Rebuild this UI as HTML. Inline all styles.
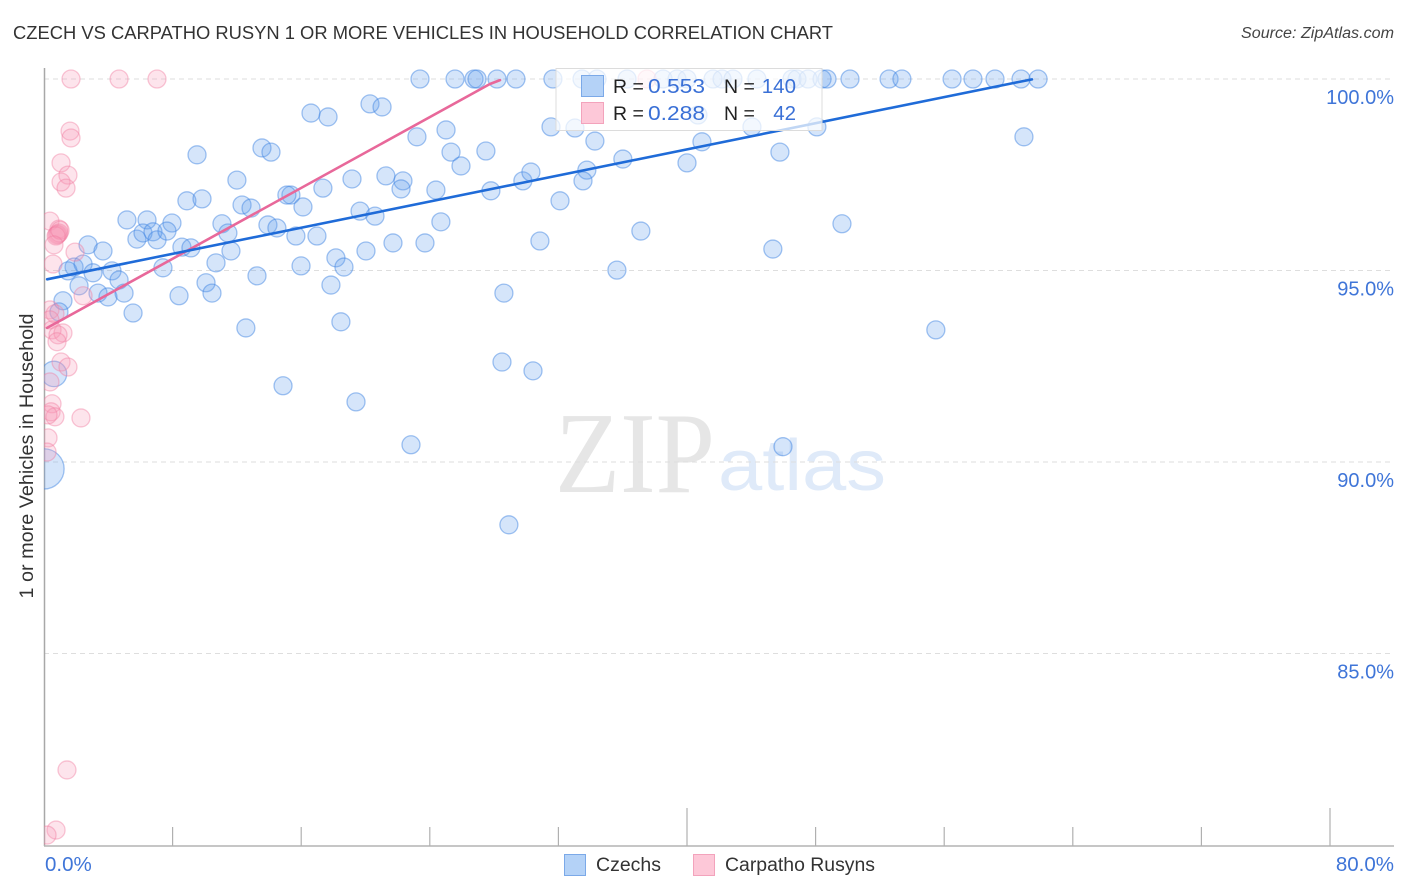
<!DOCTYPE html>
<html lang="en">
<head>
<meta charset="utf-8">
<title>Czech vs Carpatho Rusyn 1 or more Vehicles in Household Correlation Chart</title>
<style>
html,body{margin:0;padding:0;background:#fff;width:1406px;height:892px;overflow:hidden}
svg{display:block;font-family:"Liberation Sans",sans-serif}
</style>
</head>
<body>
<svg id="chart" xmlns="http://www.w3.org/2000/svg" width="1406" height="892" viewBox="0 0 1406 892">
  <defs><clipPath id="plot-clip"><rect x="44" y="60" width="1350" height="786"/></clipPath></defs>
  <rect width="1406" height="892" fill="#fff"/>
  <text x="13" y="39" font-size="18" fill="#333" textLength="820" lengthAdjust="spacingAndGlyphs">CZECH VS CARPATHO RUSYN 1 OR MORE VEHICLES IN HOUSEHOLD CORRELATION CHART</text>
  <text x="1241" y="38" font-size="15.5" font-style="italic" fill="#444" textLength="153" lengthAdjust="spacingAndGlyphs">Source: ZipAtlas.com</text>
  <g>
    <text x="555" y="492" font-family="'Liberation Serif',serif" font-size="116" fill="#e6e6e6" textLength="160" lengthAdjust="spacingAndGlyphs">ZIP</text>
    <text x="718" y="490" font-size="72" fill="#dfeaf9" textLength="168" lengthAdjust="spacingAndGlyphs">atlas</text>
  </g>
  <g id="grid"></g>
  <g id="axes"></g>
  <text transform="translate(33,456) rotate(-90)" font-size="19" fill="#333" text-anchor="middle" textLength="285" lengthAdjust="spacingAndGlyphs">1 or more Vehicles in Household</text>
  <g id="points" clip-path="url(#plot-clip)"></g>
  <g id="trends"></g>
  <g>
    <rect x="556" y="68.5" width="266" height="62" fill="#fff" fill-opacity="0.72" stroke="#dcdcdc" stroke-width="1"/>
    <rect x="581.5" y="75.5" width="22" height="21" fill="#b4d2f7" stroke="#7ba9e8" stroke-width="1"/>
    <rect x="581.5" y="102.5" width="22" height="21" fill="#fdc8d8" stroke="#f3a3bc" stroke-width="1"/>
    <text x="613" y="93" font-size="19.5" fill="#222">R =</text>
    <text x="648" y="93" font-size="20.5" fill="#3a70d6" textLength="57" lengthAdjust="spacingAndGlyphs">0.553</text>
    <text x="724" y="93" font-size="19.5" fill="#222">N =</text>
    <text x="796" y="93" font-size="20.5" fill="#3a70d6" text-anchor="end">140</text>
    <text x="613" y="120" font-size="19.5" fill="#222">R =</text>
    <text x="648" y="120" font-size="20.5" fill="#3a70d6" textLength="57" lengthAdjust="spacingAndGlyphs">0.288</text>
    <text x="724" y="120" font-size="19.5" fill="#222">N =</text>
    <text x="796" y="120" font-size="20.5" fill="#3a70d6" text-anchor="end">42</text>
  </g>
  <g>
    <g>
      <rect x="564.5" y="854.5" width="21" height="21" fill="#b4d2f7" stroke="#7ba9e8" stroke-width="1"/>
      <text x="596" y="871" font-size="19" fill="#333" textLength="65" lengthAdjust="spacingAndGlyphs">Czechs</text>
    </g>
    <g>
      <rect x="693.5" y="854.5" width="21" height="21" fill="#fdc8d8" stroke="#f3a3bc" stroke-width="1"/>
      <text x="725" y="871" font-size="19" fill="#333" textLength="150" lengthAdjust="spacingAndGlyphs">Carpatho Rusyns</text>
    </g>
  </g>
</svg>
<script>
const yTickValues = [100, 95, 90, 85];
const yTickLabels = ['100.0%', '95.0%', '90.0%', '85.0%'];
const xTickValues = [0, 8, 16, 24, 32, 40, 48, 56, 64, 72, 80];
const xMajorTicks = [40, 80];
const xEndValues = [0, 80];
const xEndLabels = ['0.0%', '80.0%'];

const czechX = [23.39,25.57,26.75,26.94,28.18,29.36,31.66,33.47,34.40,36.27,38.51,39.38,40.00,41.62,42.18,42.86,44.35,46.53,46.84,47.53,48.40,48.71,50.14,52.57,53.37,56.49,57.79,59.16,60.78,61.84,
16.61,17.67,20.28,21.03,23.20,25.01,60.96,31.54,33.03,34.27,40.68,44.04,48.08,40.93,9.52,13.56,14.12,25.32,27.49,25.94,36.01,40.00,45.78,12.00,19.16,21.27,22.33,22.21,24.38,17.35,15.36,15.11,27.80,29.79,30.29,33.77,33.53,8.89,9.83,12.32,12.88,16.11,19.66,20.59,24.69,32.10,5.16,6.41,7.96,11.07,13.93,14.49,15.67,16.98,5.78,6.16,6.78,7.03,7.65,11.44,21.71,23.70,30.85,37.13,45.34,49.64,2.74,3.67,8.58,9.14,11.63,20.03,18.16,15.99,18.66,10.70,7.40,35.64,1.87,1.49,2.43,4.23,3.05,4.67,2.18,13.25,10.08,17.85,10.45,8.40,3.36,3.98,4.98,28.61,1.18,0.93,5.54,12.56,18.47,55.48,28.49,30.42,14.87,19.41,22.83,45.97,28.92];
const czechY = [100,100,100,100,100,100,100,100,100,100,100,100,100,100,100,100,100,100,100,100,100,100,100,100,100,100,100,100,100,100,
99.11,99.01,99.35,99.27,98.49,98.67,98.49,98.75,98.72,98.38,99.06,98.75,98.75,98.36,98.02,98.20,98.09,98.09,98.12,97.73,97.91,97.81,98.09,97.36,97.39,97.47,97.34,97.13,97.10,97.15,96.97,96.97,97.08,97.34,97.57,97.62,97.34,96.82,96.87,96.71,96.63,96.66,96.55,96.42,96.27,96.82,96.32,96.32,96.24,96.22,96.19,96.11,95.90,95.90,95.82,95.98,96.01,95.80,96.03,95.98,95.72,95.72,95.77,96.03,95.56,96.22,95.67,95.51,95.61,95.59,95.51,95.51,95.33,95.12,95.09,95.20,95.07,95.01,95.09,94.99,95.17,94.99,94.94,94.75,94.60,94.86,94.68,94.62,94.41,94.34,94.41,94.31,94.41,94.41,94.21,93.92,93.89,93.50,93.66,93.45,92.61,92.38,91.99,91.57,90.45,90.40,88.36];
const czechBigX = [0.62, 0];
const czechBigY = [92.30, 89.82];
const czechBigWeight = [2, 5];

const rusynX = [1.68,4.67,7.03,37.51,1.62,1.68,1.06,1.49,1.06,1.37,0.37,0.93,0.87,0.81,0.93,1.00,0.75,0.62,1.93,0.56,2.43,0.37,0.68,0.37,0.50,1.18,0.87,0.81,1.06,1.49,0.37,0.50,0.44,0.68,0.25,2.30,0.25,0.19,1.43,0.75,0.19];
const rusynY = [100,100,100,100,98.64,98.46,97.81,97.49,97.31,97.15,96.29,96.08,95.95,95.93,95.98,96.05,95.90,95.67,95.48,95.17,94.34,93.97,93.87,93.71,93.45,93.37,93.32,93.14,92.61,92.48,92.09,91.52,91.31,91.18,91.23,91.15,90.63,90.26,81.96,80.39,80.26];

const czechTrendX = [0.19, 60.59, 61.46];
const czechTrendY = [94.77, 99.92, 99.99];
const rusynTrendX = [0.19, 27.74, 28.37];
const rusynTrendY = [93.50, 99.87, 99.97];

const NS = 'http://www.w3.org/2000/svg';
function xScale(v) { return 44 + v * 16.075; }
function yScale(v) { return 79 + (100 - v) * 38.3; }
function make(tag, attrs, parent) {
  const el = document.createElementNS(NS, tag);
  for (const k in attrs) el.setAttribute(k, attrs[k]);
  parent.appendChild(el);
  return el;
}
const gridG = document.getElementById('grid');
const axesG = document.getElementById('axes');
const pointsG = document.getElementById('points');
const trendsG = document.getElementById('trends');

yTickValues.forEach(function (v, i) {
  const line = make('line', {x1: 44, x2: 1394, y1: yScale(v), y2: yScale(v), stroke: '#dedede', 'stroke-width': 1, 'stroke-dasharray': '5 4'}, gridG);
  
  
  const label = make('text', {x: 1394, y: yScale(v) + 25, 'font-size': 20, fill: '#3f75d8', 'text-anchor': 'end'}, axesG);
  label.textContent = yTickLabels[i];
  
  
});

const yAxis = make('line', {x1: 44.5, x2: 44.5, y1: 68, y2: 846, stroke: '#a8a8a8', 'stroke-width': 1.5}, axesG);


const xAxis = make('line', {x1: 44, x2: 1394, y1: 846, y2: 846, stroke: '#b4b4b4', 'stroke-width': 1.5}, axesG);



xTickValues.forEach(function (v) {
  if (v === 0) return;
  const major = xMajorTicks.indexOf(v) >= 0;
  const tick = make('line', {x1: xScale(v), x2: xScale(v), y1: major ? 808 : 827, y2: 846, stroke: '#b0b0b0', 'stroke-width': 1.2}, axesG);
  
  
});

xEndValues.forEach(function (v, i) {
  const label = make('text', {x: i === 0 ? xScale(v) + 1 : 1394, y: 871, 'font-size': 20.5, fill: '#3f75d8', 'text-anchor': i === 0 ? 'start' : 'end'}, axesG);
  label.textContent = xEndLabels[i];
  
  
});

const R = 9;
const blueStyle = {fill: 'rgba(98,158,238,0.27)', stroke: 'rgba(62,132,226,0.48)', 'stroke-width': 1.3};
const pinkStyle = {fill: 'rgba(248,150,180,0.26)', stroke: 'rgba(240,125,160,0.42)', 'stroke-width': 1.3};

czechX.forEach(function (x, i) {
  const c = make('circle', Object.assign({cx: xScale(x), cy: yScale(czechY[i]), r: R}, blueStyle), pointsG);
  
  
});
czechBigX.forEach(function (x, i) {
  const c = make('circle', Object.assign({cx: xScale(x), cy: yScale(czechBigY[i]), r: R * Math.sqrt(czechBigWeight[i])}, blueStyle), pointsG);
  
  
});
rusynX.forEach(function (x, i) {
  const c = make('circle', Object.assign({cx: xScale(x), cy: yScale(rusynY[i]), r: R}, pinkStyle), pointsG);
  
  
});

function trendPath(xs, ys) {
  return xs.map(function (x, i) { return xScale(x).toFixed(1) + ',' + yScale(ys[i]).toFixed(1); }).join(' ');
}
const rusynTrend = make('polyline', {points: trendPath(rusynTrendX, rusynTrendY), fill: 'none', stroke: '#e8689a', 'stroke-width': 2.6, 'stroke-linecap': 'round', 'stroke-linejoin': 'round'}, trendsG);


const czechTrend = make('polyline', {points: trendPath(czechTrendX, czechTrendY), fill: 'none', stroke: '#1f6bd8', 'stroke-width': 2.6, 'stroke-linecap': 'round', 'stroke-linejoin': 'round'}, trendsG);


</script>
</body>
</html>
